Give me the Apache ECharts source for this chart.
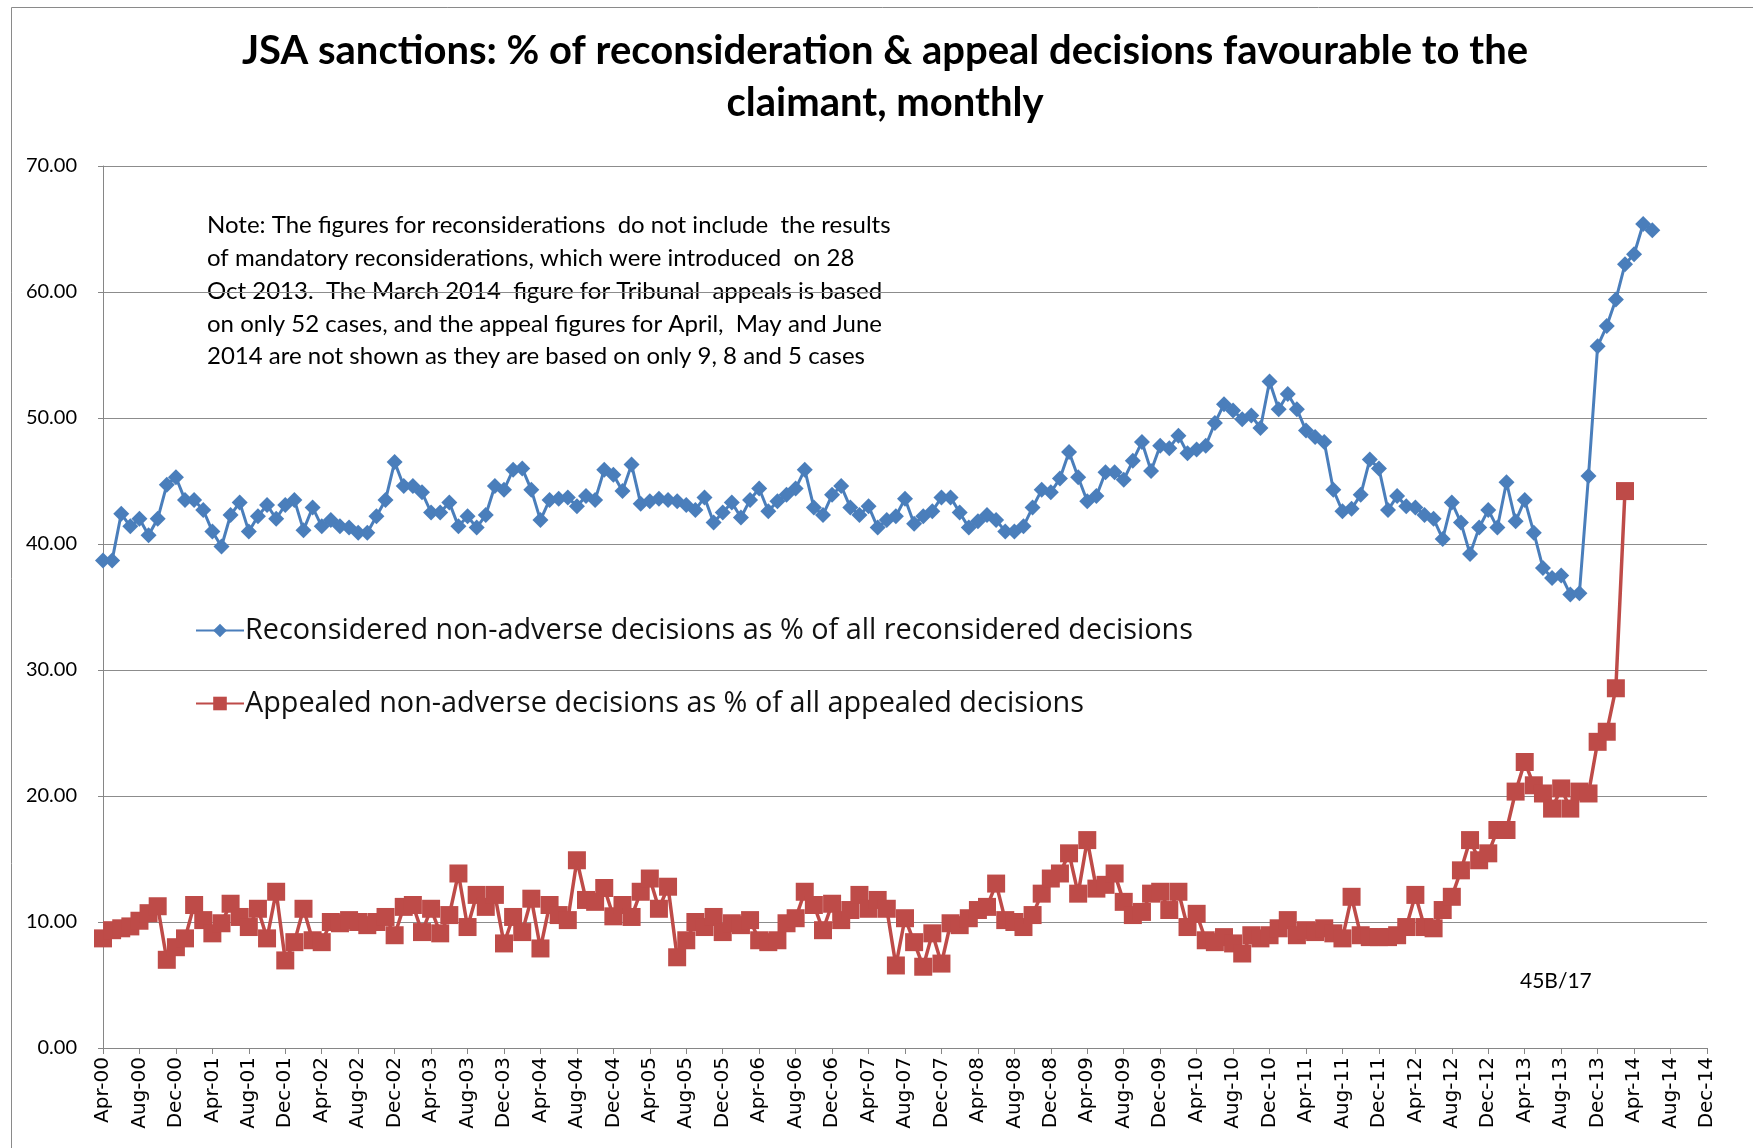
<!DOCTYPE html>
<html>
<head>
<meta charset="utf-8">
<title>JSA sanctions: reconsideration & appeal decisions</title>
<script src="https://cdn.jsdelivr.net/npm/echarts@6/dist/echarts.min.js"></script>
<style>
  html, body { margin: 0; padding: 0; background: #ffffff; }
  #chart { width: 1753px; height: 1148px; }
</style>
</head>
<body>
<div id="chart"></div>
<script>
// Month labels, Apr-00 through Dec-14
const monthNames = ['Jan','Feb','Mar','Apr','May','Jun','Jul','Aug','Sep','Oct','Nov','Dec'];
const firstYear = 2000, firstMonth = 3;   // April 2000
const lastYear = 2014, lastMonth = 11;    // December 2014
const categories = [];
for (let y = firstYear; y <= lastYear; y++) {
  const m0 = (y === firstYear) ? firstMonth : 0;
  const m1 = (y === lastYear) ? lastMonth : 11;
  for (let m = m0; m <= m1; m++) {
    categories.push(monthNames[m] + '-' + String(y % 100).padStart(2, '0'));
  }
}

// Reconsidered non-adverse decisions as % of all reconsidered decisions (Apr-00 .. Jun-14)
const reconsidered = [
  38.7, 38.7, 42.4, 41.4, 42.0, 40.7, 42.0, 44.7, 45.3, 43.5, 43.5, 42.7,
  41.0, 39.8, 42.3, 43.3, 41.0, 42.2, 43.1, 42.0, 43.1, 43.5, 41.1, 42.9,
  41.4, 41.9, 41.4, 41.3, 40.9, 40.9, 42.2, 43.5, 46.5, 44.6, 44.6, 44.1,
  42.5, 42.5, 43.3, 41.4, 42.2, 41.3, 42.3, 44.6, 44.3, 45.9, 46.0, 44.3,
  41.9, 43.5, 43.6, 43.7, 43.0, 43.8, 43.5, 45.9, 45.5, 44.2, 46.3, 43.2,
  43.4, 43.6, 43.5, 43.4, 43.1, 42.7, 43.7, 41.7, 42.5, 43.3, 42.1, 43.5,
  44.4, 42.6, 43.4, 43.9, 44.4, 45.9, 42.9, 42.3, 43.9, 44.6, 42.9, 42.3,
  43.0, 41.3, 41.9, 42.2, 43.6, 41.6, 42.2, 42.6, 43.7, 43.7, 42.5, 41.3,
  41.8, 42.3, 41.9, 41.0, 41.0, 41.4, 42.9, 44.3, 44.1, 45.2, 47.3, 45.3,
  43.4, 43.8, 45.7, 45.7, 45.1, 46.6, 48.1, 45.8, 47.8, 47.6, 48.6, 47.2,
  47.5, 47.8, 49.6, 51.1, 50.6, 49.9, 50.2, 49.2, 52.9, 50.7, 51.9, 50.7,
  49.0, 48.5, 48.1, 44.3, 42.6, 42.8, 43.9, 46.7, 46.0, 42.7, 43.8, 43.0,
  42.9, 42.3, 42.0, 40.4, 43.3, 41.7, 39.2, 41.3, 42.7, 41.3, 44.9, 41.8,
  43.5, 40.9, 38.1, 37.3, 37.5, 36.0, 36.1, 45.4, 55.7, 57.3, 59.4, 62.2,
  63.0, 65.4, 64.9
];

// Appealed non-adverse decisions as % of all appealed decisions (Apr-00 .. Mar-14)
const appealed = [
  8.7, 9.35, 9.5, 9.65, 10.1, 10.7, 11.25, 7.0, 8.0, 8.7, 11.35, 10.15,
  9.1, 9.9, 11.45, 10.4, 9.6, 11.05, 8.7, 12.4, 6.95, 8.4, 11.05, 8.55,
  8.4, 10.0, 9.9, 10.15, 10.0, 9.75, 10.0, 10.4, 8.95, 11.2, 11.35, 9.2,
  11.05, 9.1, 10.55, 13.85, 9.6, 12.15, 11.2, 12.15, 8.3, 10.4, 9.2, 11.85,
  7.9, 11.35, 10.55, 10.15, 14.9, 11.75, 11.6, 12.7, 10.45, 11.35, 10.4, 12.4,
  13.45, 11.05, 12.8, 7.2, 8.55, 10.0, 9.6, 10.4, 9.2, 9.9, 9.75, 10.15,
  8.55, 8.4, 8.55, 9.9, 10.3, 12.4, 11.35, 9.35, 11.45, 10.15, 10.95, 12.15,
  11.05, 11.75, 11.05, 6.55, 10.3, 8.4, 6.45, 9.1, 6.7, 9.9, 9.75, 10.3,
  10.95, 11.2, 13.05, 10.15, 10.0, 9.6, 10.55, 12.25, 13.45, 13.85, 15.45, 12.25,
  16.5, 12.65, 12.95, 13.85, 11.6, 10.55, 10.8, 12.25, 12.4, 10.95, 12.4, 9.6,
  10.65, 8.55, 8.4, 8.8, 8.3, 7.5, 8.95, 8.7, 8.95, 9.5, 10.15, 8.95,
  9.35, 9.2, 9.5, 9.1, 8.7, 12.0, 8.95, 8.8, 8.8, 8.8, 8.95, 9.6,
  12.15, 9.6, 9.5, 10.95, 12.0, 14.1, 16.5, 14.9, 15.45, 17.3, 17.3, 20.35,
  22.7, 20.85, 20.2, 19.0, 20.6, 19.0, 20.35, 20.2, 24.3, 25.1, 28.55, 44.2
];

const seriesNames = [
  'Reconsidered non-adverse decisions as % of all reconsidered decisions',
  'Appealed non-adverse decisions as % of all appealed decisions'
];

const titleText = 'JSA sanctions: % of reconsideration & appeal decisions favourable to the\nclaimant, monthly';

const noteLines = [
  'Note: The figures for reconsiderations  do not include  the results',
  'of mandatory reconsiderations, which were introduced  on 28',
  'Oct 2013.  The March 2014  figure for Tribunal  appeals is based',
  'on only 52 cases, and the appeal figures for April,  May and June',
  '2014 are not shown as they are based on only 9, 8 and 5 cases'
];

const refText = '45B/17';

const chart = echarts.init(document.getElementById('chart'), null, { renderer: 'canvas' });

chart.setOption({
  backgroundColor: '#ffffff',
  animation: false,
  title: {
    text: titleText,
    left: 880,
    top: 20,
    textAlign: 'center',
    textStyle: {
      fontFamily: 'Lato',
      fontWeight: 'bold',
      fontSize: 40,
      lineHeight: 52,
      color: '#000000'
    }
  },
  grid: { left: 103, right: 46, top: 166, bottom: 100, containLabel: false },
  legend: {
    orient: 'vertical',
    left: 195,
    top: 616,
    padding: 0,
    itemWidth: 48,
    itemHeight: 17,
    itemGap: 44,
    textStyle: { fontFamily: 'Open Sans', fontSize: 28.8, lineHeight: 29, color: '#111111', padding: [0, 0, 0, -4] },
    data: seriesNames
  },
  xAxis: {
    type: 'category',
    data: categories,
    boundaryGap: false,
    axisLine: { lineStyle: { color: '#868686', width: 1 } },
    axisTick: { show: true, interval: 3, length: 6, lineStyle: { color: '#868686' } },
    axisLabel: {
      interval: 3,
      rotate: 90,
      margin: 9,
      fontFamily: 'DejaVu Sans',
      fontSize: 20,
      color: '#000000'
    },
    splitLine: { show: false }
  },
  yAxis: {
    type: 'value',
    min: 0,
    max: 70,
    interval: 10,
    axisLine: { show: true, lineStyle: { color: '#868686', width: 1 } },
    axisTick: { show: true, length: 5, lineStyle: { color: '#868686' } },
    axisLabel: {
      margin: 26,
      fontFamily: 'Lato',
      fontSize: 20,
      color: '#000000',
      formatter: v => v.toFixed(2)
    },
    splitLine: { show: true, lineStyle: { color: '#8c8c8c', width: 1 } }
  },
  graphic: [
    {
      type: 'rect',
      left: 9, top: 5,
      shape: { width: 1800, height: 1200 },
      style: { fill: 'none', stroke: '#8a8a8a', lineWidth: 1 },
      silent: true, z: -10
    },
    {
      type: 'text',
      left: 207,
      top: 209,
      style: {
        text: noteLines.join('\n'),
        fontFamily: 'Lato',
        fontSize: 24,
        lineHeight: 32.8,
        fill: '#000000'
      }
    },
    {
      type: 'text',
      left: 1520,
      top: 971,
      style: {
        text: refText,
        fontFamily: 'Lato',
        fontSize: 21,
        fill: '#000000'
      }
    }
  ],
  series: [
    {
      name: seriesNames[0],
      type: 'line',
      data: reconsidered,
      symbol: 'diamond',
      symbolSize: 16,
      showAllSymbol: true,
      lineStyle: { color: '#4A7EBB', width: 3 },
      itemStyle: { color: '#4A7EBB' },
      z: 3
    },
    {
      name: seriesNames[1],
      type: 'line',
      data: appealed,
      symbol: 'rect',
      symbolSize: 18,
      showAllSymbol: true,
      lineStyle: { color: '#BE4B48', width: 3.5 },
      itemStyle: { color: '#BE4B48' },
      z: 2
    }
  ]
});
</script>
</body>
</html>
